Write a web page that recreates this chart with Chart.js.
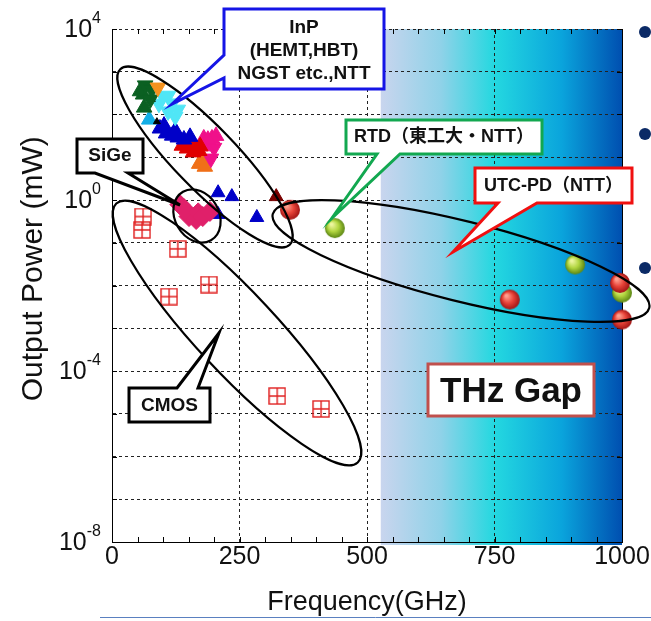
<!DOCTYPE html>
<html>
<head>
<meta charset="utf-8">
<script src="https://cdn.jsdelivr.net/npm/chart.js@4/dist/chart.umd.min.js"></script>
<style>
  html, body { margin: 0; padding: 0; background: #fff; }
  #wrap { width: 651px; height: 621px; }
</style>
</head>
<body>
<div id="wrap"><canvas id="thzChart" width="651" height="621"></canvas></div>
<script>
// ---- data (frequency GHz, output power mW) ----
const DECADES = [-8, -7, -6, -5, -4, -3, -2, -1, 0, 1, 2, 3, 4];
const LABELED_DECADES = [-8, -4, 0, 4];
const X_LABELS = [0, 250, 500, 750, 1000];
const GAP_START = 527; // THz gap shading starts here (GHz)

// InP HEMT / HBT (NGST etc., NTT)
const inpOrangeDown = [{x: 90, y: 427}];
const inpGreenUp = [{x: 61, y: 293}, {x: 63, y: 145}, {x: 55, y: 350}];
const inpGreenDown = [{x: 65, y: 480}, {x: 75, y: 224}, {x: 78, y: 380}];
const inpBlack = [{x: 78, y: 224}, {x: 88, y: 68}];
const inpCyanDown = [{x: 100, y: 263}, {x: 118, y: 182}, {x: 110, y: 118}, {x: 124, y: 89},
                     {x: 110, y: 275}, {x: 129, y: 130}, {x: 92, y: 178}];
const inpSkyUp = [{x: 73, y: 76}];
const inpBlue = [{x: 94, y: 47}, {x: 106, y: 36}, {x: 118, y: 32}, {x: 129, y: 29}, {x: 141, y: 26},
                 {x: 102, y: 55}, {x: 124, y: 42}, {x: 153, y: 30}];
const inpRed = [{x: 151, y: 24.5}, {x: 147, y: 16}, {x: 161, y: 19}, {x: 171, y: 14},
                {x: 137, y: 18.6}, {x: 159, y: 13}, {x: 173, y: 18}];
const inpMagenta = [{x: 180, y: 27.5}, {x: 196, y: 27.5}, {x: 184, y: 18}, {x: 204, y: 31.6}, {x: 188, y: 25.7}];
const inpMagentaDown = [{x: 194, y: 9.3}, {x: 200, y: 16.6}];
const inpOrangeUp = [{x: 171, y: 7}, {x: 182, y: 6}, {x: 178, y: 8.7}];
const inpBlue2 = [{x: 208, y: 1.48}, {x: 235, y: 1.2}, {x: 208, y: 0.46}, {x: 284, y: 0.39}];
const inpDarkRed = [{x: 322, y: 1.2}];
// SiGe
const sige = [{x: 133, y: 0.78}, {x: 141, y: 0.63}, {x: 151, y: 0.41}, {x: 165, y: 0.35},
              {x: 169, y: 0.5}, {x: 178, y: 0.41}, {x: 192, y: 0.54}];
// CMOS
const cmos = [{x: 61, y: 0.41}, {x: 59, y: 0.2}, {x: 129, y: 0.072}, {x: 190, y: 0.0105},
              {x: 112, y: 0.0055}, {x: 324, y: 2.6e-5}, {x: 410, y: 1.3e-5}];
// UTC-PD (NTT)
const utcpd = [{x: 349, y: 0.59}, {x: 780, y: 0.0047}, {x: 996, y: 0.0115}, {x: 1000, y: 0.0016}];
// RTD (Tokyo Tech / NTT)
const rtd = [{x: 437, y: 0.22}, {x: 908, y: 0.031}, {x: 1000, y: 0.0068}];

const FONT = "'Liberation Sans', Arial, 'Noto Sans CJK JP', sans-serif";

function sphere(c1, c2, c3, r) {
  const cv = document.createElement('canvas');
  const s = r * 2 + 2;
  cv.width = cv.height = s;
  const g = cv.getContext('2d');
  const grd = g.createRadialGradient(s / 2 - r * 0.35, s / 2 - r * 0.4, r * 0.1, s / 2, s / 2, r);
  grd.addColorStop(0, c1);
  grd.addColorStop(0.5, c2);
  grd.addColorStop(1, c3);
  g.fillStyle = grd;
  g.beginPath();
  g.arc(s / 2, s / 2, r, 0, Math.PI * 2);
  g.fill();
  return cv;
}

function crossBox(color, size) {
  const cv = document.createElement('canvas');
  cv.width = cv.height = size + 2;
  const g = cv.getContext('2d');
  g.strokeStyle = color;
  g.lineWidth = 1.4;
  g.strokeRect(1, 1, size, size);
  g.beginPath();
  g.moveTo(1 + size / 2, 1); g.lineTo(1 + size / 2, 1 + size);
  g.moveTo(1, 1 + size / 2); g.lineTo(1 + size, 1 + size / 2);
  g.stroke();
  return cv;
}

function tri(data, color, down, r) {
  return {
    data: data, pointStyle: 'triangle', pointRotation: down ? 180 : 0,
    pointRadius: r || 9, backgroundColor: color, borderColor: color, borderWidth: 1
  };
}

// ---- annotations (pixels) ----
const ellipses = [
  {cx: 205, cy: 157, a: 122, b: 31, ang: 46},
  {cx: 197, cy: 216, a: 28, b: 22, ang: 60},
  {cx: 237, cy: 333, a: 177, b: 40, ang: 47},
  {cx: 461, cy: 261, a: 194, b: 40, ang: 14}
];

const callouts = [
  {l: 224, t: 9, r: 384, b: 89, color: '#1515e6', edge: 'left', p1: 55, p2: 78, tip: [172, 104],
   lines: ['InP', '(HEMT,HBT)', 'NGST etc.,NTT'], ys: [28, 51, 74], size: 19},
  {l: 77, t: 139, r: 143, b: 173, color: '#000', edge: 'bottom', p1: 95, p2: 128, tip: [180, 205],
   lines: ['SiGe'], ys: [156], size: 19},
  {l: 346, t: 120, r: 542, b: 154, color: '#12a850', edge: 'bottom', p1: 377, p2: 400, tip: [332, 218],
   lines: ['RTD（東工大・NTT）'], ys: [137], size: 18},
  {l: 475, t: 168, r: 632, b: 203, color: '#f01010', edge: 'bottom', p1: 498, p2: 537, tip: [453, 252],
   lines: ['UTC-PD（NTT）'], ys: [186], size: 18},
  {l: 129, t: 388, r: 210, b: 422, color: '#000', edge: 'top', p1: 177, p2: 198, tip: [219, 333],
   lines: ['CMOS'], ys: [406], size: 19}
];

function drawCallout(ctx, c) {
  ctx.save();
  ctx.beginPath();
  ctx.moveTo(c.l, c.t);
  if (c.edge === 'top') { ctx.lineTo(c.p1, c.t); ctx.lineTo(c.tip[0], c.tip[1]); ctx.lineTo(c.p2, c.t); }
  ctx.lineTo(c.r, c.t);
  ctx.lineTo(c.r, c.b);
  if (c.edge === 'bottom') { ctx.lineTo(c.p2, c.b); ctx.lineTo(c.tip[0], c.tip[1]); ctx.lineTo(c.p1, c.b); }
  ctx.lineTo(c.l, c.b);
  if (c.edge === 'left') { ctx.lineTo(c.l, c.p2); ctx.lineTo(c.tip[0], c.tip[1]); ctx.lineTo(c.l, c.p1); }
  ctx.closePath();
  ctx.fillStyle = '#fff';
  ctx.fill();
  ctx.lineWidth = 3;
  ctx.lineJoin = 'miter';
  ctx.strokeStyle = c.color;
  ctx.stroke();
  ctx.fillStyle = '#111';
  ctx.font = 'bold ' + c.size + 'px ' + FONT;
  ctx.textAlign = 'center';
  ctx.textBaseline = 'middle';
  c.lines.forEach((t, i) => ctx.fillText(t, (c.l + c.r) / 2, c.ys[i]));
  ctx.restore();
}

const deco = {
  id: 'deco',
  beforeDraw(chart) {
    const {ctx, chartArea: a, scales: {x}} = chart;
    ctx.save();
    ctx.fillStyle = '#fff';
    ctx.fillRect(0, 0, chart.width, chart.height);
    const x0 = x.getPixelForValue(GAP_START);
    const g = ctx.createLinearGradient(x0, 0, a.right, 0);
    g.addColorStop(0, '#c9d5ee');
    g.addColorStop(0.25, '#8fd2e8');
    g.addColorStop(0.47, '#24d8e0');
    g.addColorStop(0.75, '#0aa4dc');
    g.addColorStop(1, '#004fb0');
    ctx.fillStyle = g;
    ctx.fillRect(x0, a.top, a.right - x0, a.bottom - a.top + 3);
    ctx.restore();
  },
  beforeDatasetsDraw(chart) {
    const {ctx, chartArea: a, scales: {x, y}} = chart;
    ctx.save();
    ctx.strokeStyle = '#000';
    ctx.lineWidth = 1;
    ctx.beginPath();
    for (let v = 0; v <= 1000; v += 50) {
      const px = Math.round(x.getPixelForValue(v)) + 0.5;
      ctx.moveTo(px, a.bottom); ctx.lineTo(px, a.bottom - 5);
      ctx.moveTo(px, a.top); ctx.lineTo(px, a.top + 5);
    }
    DECADES.forEach(e => {
      const py = Math.round(y.getPixelForValue(Math.pow(10, e))) + 0.5;
      ctx.moveTo(a.left, py); ctx.lineTo(a.left + 5, py);
      ctx.moveTo(a.right, py); ctx.lineTo(a.right - 5, py);
    });
    ctx.moveTo(a.right + 0.5, a.top); ctx.lineTo(a.right + 0.5, a.bottom);
    ctx.stroke();
    ctx.restore();
  },
  afterDatasetsDraw(chart) {
    const {ctx} = chart;
    ctx.save();
    ctx.strokeStyle = '#000';
    ctx.lineWidth = 2.2;
    ellipses.forEach(e => {
      ctx.beginPath();
      ctx.ellipse(e.cx, e.cy, e.a, e.b, e.ang * Math.PI / 180, 0, Math.PI * 2);
      ctx.stroke();
    });
    ctx.restore();
    callouts.forEach(c => drawCallout(ctx, c));
    // THz Gap label
    ctx.save();
    ctx.fillStyle = '#fff';
    ctx.fillRect(428, 364, 166, 52);
    ctx.lineWidth = 3;
    ctx.strokeStyle = '#c0504d';
    ctx.strokeRect(428, 364, 166, 52);
    ctx.fillStyle = '#111';
    ctx.font = 'bold 35px ' + FONT;
    ctx.textAlign = 'center';
    ctx.textBaseline = 'middle';
    ctx.fillText('THz Gap', 511, 392);
    ctx.restore();
  },
  afterDraw(chart) {
    const {ctx, scales: {y}} = chart;
    ctx.save();
    // y tick labels 10^n with a real superscript
    ctx.fillStyle = '#111';
    ctx.textBaseline = 'middle';
    ctx.textAlign = 'left';
    LABELED_DECADES.forEach(e => {
      const py = y.getPixelForValue(Math.pow(10, e));
      const exp = String(e);
      ctx.font = '16px ' + FONT;
      const ew = ctx.measureText(exp).width;
      ctx.font = '25px ' + FONT;
      const bw = ctx.measureText('10').width;
      const right = 101;
      ctx.fillText('10', right - ew - bw, py + 1);
      ctx.font = '16px ' + FONT;
      ctx.fillText(exp, right - ew, py - 10);
    });
    ctx.fillStyle = '#0b2a66';
    [32, 134, 268].forEach(yy => { ctx.beginPath(); ctx.arc(645, yy, 6, 0, Math.PI * 2); ctx.fill(); });
    ctx.strokeStyle = '#5a80c0';
    ctx.lineWidth = 1;
    ctx.beginPath(); ctx.moveTo(100, 617.5); ctx.lineTo(651, 617.5); ctx.stroke();
    ctx.restore();
  }
};

const ctx = document.getElementById('thzChart');

new Chart(ctx, {
  type: 'scatter',
  data: {
    datasets: [
      {data: sige, pointStyle: 'rectRot', pointRadius: 10, backgroundColor: '#e0206a', borderColor: '#e0206a', borderWidth: 1},
      tri(inpOrangeDown, '#f5921e', true),
      tri(inpGreenDown, '#0b6022', true),
      tri(inpGreenUp, '#0b6022', false),
      tri(inpBlack, '#000', false, 4),
      tri(inpCyanDown, '#50e6f6', true),
      tri(inpSkyUp, '#12aee6', false),
      tri(inpBlue, '#0000c8', false),
      tri(inpRed, '#e00000', false),
      tri(inpMagenta, '#f0108a', false),
      tri(inpMagentaDown, '#f0108a', true),
      tri(inpOrangeUp, '#f07018', false),
      tri(inpBlue2, '#0000c8', false, 8),
      tri(inpDarkRed, '#7a0000', false, 8),
      {data: cmos, pointStyle: crossBox('#e02020', 16), pointRadius: 9},
      {data: utcpd, pointStyle: sphere('#ffa090', '#e8453a', '#a01414', 10), pointRadius: 10, clip: false},
      {data: rtd, pointStyle: sphere('#eef6a0', '#b2d640', '#5a8512', 10), pointRadius: 10, clip: false}
    ]
  },
  options: {
    responsive: false,
    animation: false,
    events: [],
    layout: {padding: {top: 29, right: 29, bottom: 0, left: 0}},
    plugins: {legend: {display: false}, tooltip: {enabled: false}},
    scales: {
      x: {
        type: 'linear', min: 0, max: 1000,
        afterFit: s => { s.height = 79; },
        afterBuildTicks: s => { s.ticks = X_LABELS.map(v => ({value: v})); },
        ticks: {padding: 0, color: '#111', font: {family: FONT, size: 25}, maxRotation: 0, autoSkip: false,
                callback: v => String(v)},
        grid: {
          drawTicks: false, lineWidth: 1,
          color: c => (c.tick && c.tick.value > 0 && c.tick.value < 1000) ? '#222' : 'rgba(0,0,0,0)'
        },
        border: {display: true, color: '#000', width: 1, dash: [3, 3]},
        title: {display: true, text: 'Frequency(GHz)', color: '#111',
                font: {family: FONT, size: 27}, padding: {top: 0, bottom: 2}}
      },
      y: {
        type: 'logarithmic', min: 1e-8, max: 1e4,
        afterFit: s => { s.width = 112; },
        afterBuildTicks: s => { s.ticks = DECADES.map(e => ({value: Math.pow(10, e)})); },
        ticks: {display: false},
        grid: {drawTicks: false, lineWidth: 1, color: '#222'},
        border: {display: true, color: '#000', width: 1, dash: [3, 3]},
        title: {display: true, text: '    Output Power (mW)', color: '#111',
                font: {family: FONT, size: 30}, padding: {top: 16, bottom: 0}}
      }
    }
  },
  plugins: [deco]
});
</script>
</body>
</html>
